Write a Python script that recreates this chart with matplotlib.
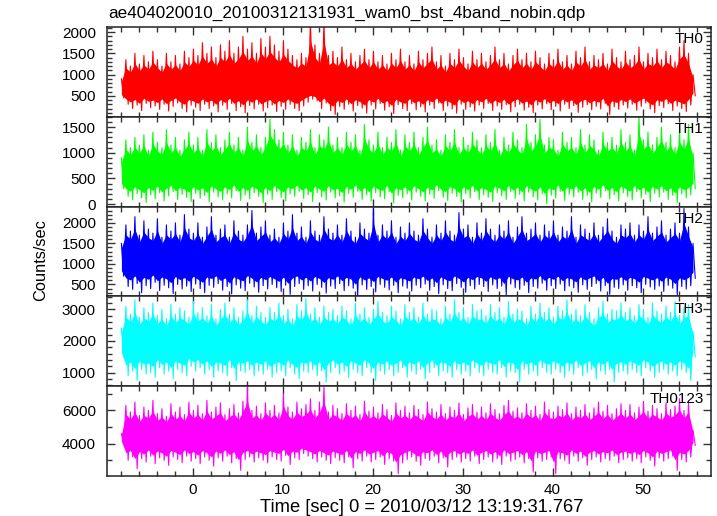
import matplotlib
matplotlib.use('Agg')
import matplotlib.pyplot as plt
from matplotlib.ticker import MultipleLocator
import numpy as np

plt.rcParams['font.family'] = ['Liberation Sans', 'DejaVu Sans']

TITLE = 'ae404020010_20100312131931_wam0_bst_4band_nobin.qdp'
XLABEL = 'Time [sec] 0 = 2010/03/12 13:19:31.767'
YLABEL = 'Counts/sec'

# light curves, summarised as upper / lower envelope every 0.5 s
T_START = -7.9
T_STEP = 0.5

names = ['TH0', 'TH1', 'TH2', 'TH3', 'TH0123']
colors = ['#ff0000', '#00ff00', '#0000ff', '#00ffff', '#ff00ff']
mean_level = [720, 650, 1150, 2000, 4500]

th0_hi = [900, 1350, 1200, 1500, 1250, 1450, 1300, 1550, 1350, 1200, 1500, 1300, 1450, 1250, 1550, 1400,
          1600, 1450, 1750, 1500, 1650, 1400, 1700, 1550, 1800, 1500, 1650, 1900, 1600, 1750, 1500, 1850,
          1650, 1900, 1700, 1550, 1800, 1600, 1450, 1350, 1500, 1400, 2250, 1700, 1500, 2250, 1450, 1550,
          1400, 1650, 1350, 1500, 1300, 1450, 1600, 1350, 1550, 1300, 1450, 1250, 1500, 1350, 1600, 1300,
          1450, 1250, 1550, 1350, 1500, 1650, 1300, 1450, 1200, 1500, 1350, 1600, 1400, 1250, 1550, 1350,
          1500, 1300, 1450, 1650, 1350, 1500, 1250, 1450, 1600, 1350, 1500, 1300, 1550, 1400, 1250, 1500,
          1350, 1600, 1300, 1450, 1250, 1550, 1400, 1650, 1300, 1450, 1350, 1500, 1250, 1600, 1400, 1300,
          1550, 1350, 1450, 1650, 1300, 1500, 1400, 1600, 1350, 1550, 1450, 1300, 1650, 1800, 1500, 1000]
th0_lo = [450, 300, 200, 280, 150, 320, 220, 260, 180, 300, 140, 250, 330, 200, 120, 280,
          230, 150, 300, 200, 260, 120, 280, 180, 320, 150, 240, 100, 270, 190, 300, 140,
          220, 280, 130, 250, 180, 300, 200, 150, 260, 350, 420, 380, 200, 330, 150, 60,
          250, 180, 300, 140, 270, 210, 90, 280, 190, 320, 160, 240, 80, 290, 200, 150,
          310, 170, 240, 120, 280, 200, 330, 150, 260, 190, 90, 300, 180, 240, 140, 280,
          200, 320, 150, 260, 180, 290, 120, 240, 300, 160, 230, 100, 280, 190, 310, 170,
          250, 140, 300, 200, 270, 110, 230, 290, 170, 250, 190, 320, 60, 240, 180, 280,
          210, 300, 160, 250, 330, 190, 100, 270, 220, 310, 150, 260, 200, 130, 280, 500]

th1_hi = [900, 1250, 1100, 1300, 1150, 1350, 1050, 1400, 1200, 1100, 1450, 1150, 1300, 1050, 1250, 1400,
          1150, 1300, 1050, 1450, 1200, 1350, 1100, 1250, 1400, 1150, 1300, 1050, 1500, 1200, 1350, 1100,
          1300, 1650, 1450, 1250, 1400, 1150, 1350, 1050, 1300, 1200, 1450, 1100, 1350, 1250, 1500, 1150,
          1300, 1100, 1400, 1200, 1350, 1050, 1550, 1250, 1150, 1400, 1100, 1300, 1200, 1450, 1050, 1350,
          1200, 1400, 1100, 1300, 1500, 1150, 1250, 1050, 1350, 1200, 1450, 1100, 1300, 1150, 1400, 1250,
          1100, 1350, 1200, 1450, 1050, 1300, 1150, 1400, 1250, 1100, 1550, 1200, 1350, 1650, 1150, 1300,
          1250, 1050, 1400, 1200, 1300, 1100, 1450, 1150, 1350, 1250, 1050, 1400, 1200, 1300, 1150, 1450,
          1200, 1350, 1050, 1700, 1250, 1400, 1150, 1300, 1500, 1200, 1350, 1100, 1450, 1250, 1550, 1000]
th1_lo = [300, 150, 80, 200, 120, 30, 180, 100, 220, 60, 160, 240, 90, 190, 130, 50,
          210, 110, 170, 40, 230, 140, 80, 200, 120, 260, 70, 180, 100, 220, 150, 30,
          190, 90, 240, 130, 60, 200, 150, 250, 110, 180, 50, 220, 140, 80, 230, 120,
          160, 40, 210, 130, 250, 90, 180, 60, 220, 140, 100, 240, 20, 170, 120, 200,
          80, 230, 150, 60, 190, 110, 260, 130, 70, 210, 150, 40, 200, 120, 240, 90,
          180, 130, 50, 220, 160, 90, 240, 110, 190, 60, 230, 140, 80, 200, 10, 170,
          120, 250, 70, 190, 140, 230, 90, 170, 40, 210, 130, 260, 100, 180, 60, 220,
          150, 80, 240, 120, 190, 50, 210, 140, 230, 90, 170, 30, 200, 120, 180, 300]

th2_hi = [1500, 1950, 1800, 2150, 1700, 2050, 1850, 1750, 2100, 1650, 1950, 1800, 2000, 1700, 2200, 1850,
          1750, 2000, 1650, 1900, 2150, 1700, 1850, 1950, 1650, 2050, 1800, 1700, 1950, 2300, 1750, 1900,
          2050, 1700, 1850, 1650, 2000, 1800, 2200, 1750, 1900, 1650, 2050, 1800, 1700, 2150, 1850, 1750,
          1950, 1700, 2100, 1800, 1650, 2000, 1850, 1750, 2350, 1700, 1950, 1800, 2050, 1650, 1900, 1750,
          2000, 1800, 1700, 2100, 1850, 1650, 1950, 1750, 2050, 1800, 1700, 2250, 1850, 1950, 1650, 2000,
          1750, 2100, 1850, 1700, 1950, 1800, 2050, 1650, 1900, 2150, 1750, 1850, 2000, 1700, 1950, 1800,
          2050, 1700, 1900, 1800, 2150, 1650, 1950, 1850, 1750, 2000, 1700, 1900, 2100, 1800, 1650, 1950,
          1850, 2000, 1700, 1950, 1800, 2150, 1750, 1900, 2050, 1700, 1850, 2000, 1750, 2350, 1900, 1500]
th2_lo = [700, 450, 380, 520, 300, 470, 400, 550, 350, 480, 420, 280, 500, 390, 460, 330,
          510, 400, 300, 480, 430, 520, 360, 450, 270, 490, 410, 350, 530, 440, 310, 470,
          390, 500, 420, 330, 480, 260, 450, 520, 380, 470, 340, 500, 430, 290, 460, 400,
          520, 350, 470, 410, 230, 490, 380, 450, 320, 500, 430, 370, 480, 300, 460, 410,
          340, 480, 420, 510, 360, 450, 280, 490, 400, 350, 520, 430, 310, 470, 390, 500,
          450, 330, 490, 400, 460, 250, 510, 420, 380, 480, 300, 450, 410, 530, 360, 470,
          400, 510, 350, 460, 420, 310, 490, 380, 450, 520, 340, 470, 260, 430, 400, 490,
          360, 470, 420, 300, 500, 440, 380, 460, 330, 480, 410, 250, 450, 390, 470, 650]

th3_hi = [2400, 3100, 2850, 3300, 2750, 3050, 2900, 3200, 2800, 3000, 2700, 3150, 2850, 3050, 2950, 2750,
          3250, 2900, 3050, 2800, 3150, 2700, 3000, 3200, 2850, 3050, 2750, 2950, 3300, 2800, 3100, 2900,
          2750, 3050, 2900, 3200, 2800, 3000, 2700, 3150, 2950, 3350, 2850, 3050, 2750, 3100, 2900, 3000,
          2800, 3100, 2950, 2700, 3200, 2850, 3050, 2750, 3000, 3250, 2900, 2800, 3100, 2950, 2700, 3150,
          2900, 3050, 2750, 3200, 2850, 3000, 2950, 2700, 3100, 2850, 3300, 2900, 3050, 2750, 3150, 2950,
          3000, 2800, 3150, 2900, 3050, 2750, 3250, 2850, 3000, 2950, 2700, 3100, 2850, 3200, 2900, 3050,
          2750, 3100, 2950, 3300, 2850, 3000, 2800, 3150, 2900, 2700, 3050, 3250, 2850, 3000, 2950, 3200,
          2900, 3050, 2800, 3150, 3000, 2750, 3200, 2950, 2850, 3100, 2900, 3250, 2800, 3050, 3150, 2300]
th3_lo = [1500, 900, 1050, 750, 1100, 950, 1000, 850, 1150, 950, 1050, 800, 1100, 1000, 900, 1200,
          1050, 1150, 950, 1100, 850, 1050, 1000, 900, 1150, 750, 1050, 1000, 1100, 900, 1050, 950,
          1100, 850, 1000, 1050, 900, 1150, 950, 800, 1050, 1000, 1100, 900, 1050, 700, 1000, 1150,
          950, 1050, 850, 1100, 1000, 900, 1150, 1000, 750, 1050, 950, 1100, 900, 1000, 1150, 850,
          1050, 950, 1100, 800, 1000, 1150, 900, 1050, 1000, 850, 1100, 950, 1050, 900, 1150, 1000,
          900, 1100, 1000, 950, 1150, 850, 1050, 1000, 700, 1100, 950, 1050, 900, 1150, 1000, 950,
          1100, 1000, 850, 1050, 950, 1150, 900, 1000, 1100, 800, 1050, 950, 1100, 700, 1000, 1050,
          950, 1100, 1000, 900, 1150, 1050, 850, 1000, 1100, 950, 1050, 900, 1100, 1000, 750, 1500]

th0123_hi = [4600, 6300, 5900, 6500, 5700, 6200, 6000, 6600, 5800, 6100, 5650, 6400, 5900, 6200, 5750, 6500,
             6000, 6300, 5800, 6600, 5900, 6200, 6450, 5750, 6100, 6350, 5850, 6550, 7400, 6000, 6250, 5800,
             6450, 6000, 6300, 5850, 7000, 6200, 5900, 6500, 6100, 6350, 6700, 6000, 6500, 7400, 5900, 6300,
             6100, 5800, 6400, 6000, 6250, 5750, 6550, 5950, 6200, 5850, 6350, 6050, 5700, 6450, 6000, 6250,
             5850, 6300, 6050, 5750, 6500, 6100, 5900, 6350, 5800, 6200, 6000, 6450, 5750, 6150, 6350, 5900,
             6200, 5850, 6400, 6050, 5800, 6300, 6600, 5950, 6150, 5850, 6400, 6000, 6250, 5750, 6500, 6050,
             5900, 6250, 6050, 6450, 5800, 6200, 6000, 6350, 5850, 6150, 6500, 5950, 6300, 5800, 6100, 6400,
             6000, 6350, 5850, 6200, 6550, 5950, 6300, 6100, 5800, 6450, 6050, 6250, 6700, 6000, 6500, 4800]
th0123_lo = [4000, 3000, 3200, 2500, 3100, 2900, 3250, 2800, 3150, 3000, 2700, 3200, 3050, 2850, 3250, 2950,
             3100, 2800, 3200, 3000, 2650, 3150, 2950, 3250, 2850, 3100, 2400, 3050, 3200, 2900, 3150, 3000,
             2850, 3200, 3050, 2950, 3300, 2750, 3150, 3050, 3400, 3250, 3100, 2900, 3200, 3000, 2800, 3150,
             3000, 2850, 3200, 2550, 3100, 2950, 3250, 2900, 3050, 3200, 2750, 3100, 2950, 2200, 2850, 3050,
             3200, 2950, 2700, 3100, 3000, 3250, 2850, 3150, 2600, 3050, 3200, 2900, 3100, 2950, 3250, 2800,
             3050, 3200, 2900, 3100, 2750, 3250, 2950, 3050, 3200, 2850, 3100, 2300, 3150, 2950, 3050, 3200,
             2200, 3100, 3000, 2800, 3250, 2950, 3150, 2700, 3050, 3200, 2900, 3100, 3000, 3250, 2850, 3050,
             3150, 2950, 3100, 2850, 3200, 3000, 2650, 3150, 2950, 3100, 3250, 2400, 3050, 2900, 3200, 3900]

his = [th0_hi, th1_hi, th2_hi, th3_hi, th0123_hi]
los = [th0_lo, th1_lo, th2_lo, th3_lo, th0123_lo]

ylims = [(5, 2120), (-50, 1700), (210, 2395), (570, 3410), (2060, 7450)]
ymajor = [500, 500, 500, 1000, 2000]
yminor = [100, 100, 100, 200, 1000]


def draw_panel(ax, i):
    hi = np.array(his[i], dtype=float)
    lo = np.array(los[i], dtype=float)
    t = T_START + T_STEP * np.arange(len(hi))
    m = mean_level[i]
    # solid core: envelope pulled towards the mean level
    ax.fill_between(t, m + 0.7 * (lo - m), m + 0.7 * (hi - m), color=colors[i], lw=0)
    # trace swinging between the envelope values
    zx = np.ravel(np.column_stack([t, t + T_STEP / 2]))
    zy = np.ravel(np.column_stack([hi, lo]))
    ax.plot(zx, zy, color=colors[i], lw=0.8)
    ax.set_ylim(*ylims[i])
    ax.set_xlim(-9.5, 57.6)
    ax.yaxis.set_major_locator(MultipleLocator(ymajor[i]))
    ax.yaxis.set_minor_locator(MultipleLocator(yminor[i]))
    ax.xaxis.set_major_locator(MultipleLocator(10))
    ax.xaxis.set_minor_locator(MultipleLocator(2))
    ax.tick_params(which='both', direction='in', top=True, right=True, labelsize=11, color='#333333')
    ax.tick_params(which='major', length=6, width=1)
    ax.tick_params(which='minor', length=3.5, width=1)
    ax.tick_params(axis='y', which='major', pad=8)
    ax.tick_params(axis='x', which='major', pad=5)
    for sp in ax.spines.values():
        sp.set_linewidth(1.1)
        sp.set_color('#222222')
    ax.text(0.988, 0.94, names[i], transform=ax.transAxes, ha='right', va='top', fontsize=11)
    if i < len(names) - 1:
        ax.tick_params(labelbottom=False)


fig, axes = plt.subplots(5, 1, figsize=(7.17, 5.16), dpi=100, sharex=True)
fig.subplots_adjust(left=107 / 717, right=711 / 717, top=1 - 27 / 516, bottom=1 - 476 / 516, hspace=0)

for i, ax in enumerate(axes):
    draw_panel(ax, i)

fig.text(108 / 717, 1 - 13 / 516, TITLE, ha='left', va='center', fontsize=12.3)
fig.text(422 / 717, 1 - 507 / 516, XLABEL, ha='center', va='center', fontsize=13.2)
fig.text(41 / 717, 1 - 260 / 516, YLABEL, ha='center', va='center', rotation=90, fontsize=11.8)

fig.savefig('out.png', dpi=100)
